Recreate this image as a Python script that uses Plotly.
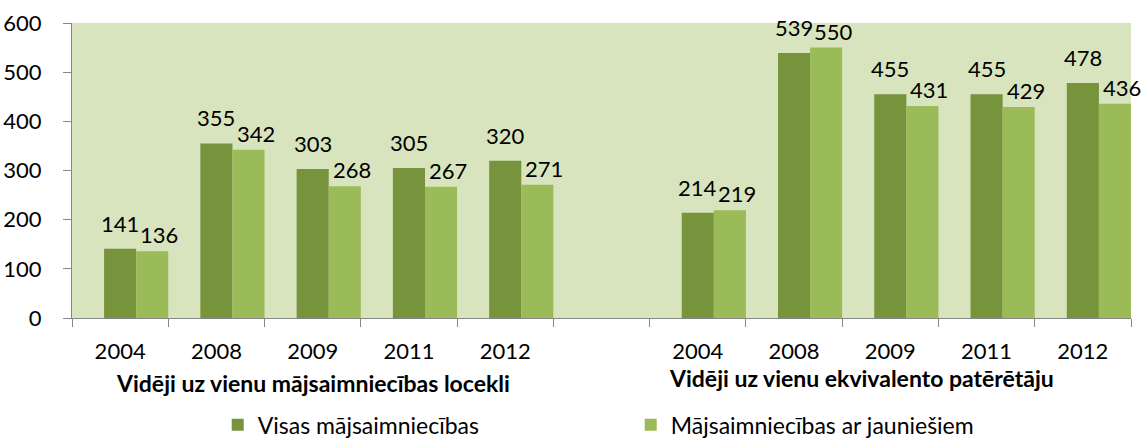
import plotly.graph_objects as go

# ---- data ----
categories = ["L2004", "L2008", "L2009", "L2011", "L2012", "gap",
              "R2004", "R2008", "R2009", "R2011", "R2012"]
tick_labels = ["2004", "2008", "2009", "2011", "2012", "",
               "2004", "2008", "2009", "2011", "2012"]
visas = [141, 355, 303, 305, 320, None, 214, 539, 455, 455, 478]
jaunie = [136, 342, 268, 267, 271, None, 219, 550, 431, 429, 436]
series_names = ["Visas mājsaimniecības", "Mājsaimniecības ar jauniešiem"]
group_titles = ["Vidēji uz vienu mājsaimniecības locekli",
                "Vidēji uz vienu ekvivalento patērētāju"]

DARK = "#77933C"
LIGHT = "#9BBB59"
BG = "#D7E4BD"
AXIS = "#868686"
FONT = "Lato, 'Open Sans', sans-serif"
FS = 22

fig = go.Figure()
fig.add_trace(go.Bar(
    x=categories, y=visas, name=series_names[0],
    marker=dict(color=DARK, line=dict(width=0)),
    width=1/3, offset=-1/6, hoverinfo="x+y",
))
fig.add_trace(go.Bar(
    x=categories, y=jaunie, name=series_names[1],
    marker=dict(color=LIGHT, line=dict(width=0)),
    width=1/3, offset=1/6, hoverinfo="x+y",
))

# data labels (Excel-like placement: dark labels a bit higher, light ones nudged right)
for i, (a, b) in enumerate(zip(visas, jaunie)):
    if a is not None:
        fig.add_annotation(x=i, y=a, xref="x", yref="y", text=str(a), showarrow=False,
                           xanchor="center", yanchor="bottom", yshift=10,
                           font=dict(size=FS, family=FONT, color="black"))
    if b is not None:
        fig.add_annotation(x=i + 1/3, y=b, xref="x", yref="y", text=str(b), showarrow=False,
                           xanchor="center", yanchor="bottom", yshift=1, xshift=7,
                           font=dict(size=FS, family=FONT, color="black"))

fig.update_layout(
    width=1144, height=439,
    margin=dict(l=72, r=13, t=23, b=121, autoexpand=False),
    paper_bgcolor="white", plot_bgcolor=BG,
    barmode="overlay",
    font=dict(family=FONT, size=FS, color="black"),
    showlegend=True,
    legend=dict(orientation="h", x=0.1376, xanchor="left", y=-0.362, yanchor="middle",
                entrywidth=368, entrywidthmode="pixels",
                font=dict(size=23, family=FONT)),
)
fig.update_xaxes(
    type="category", categoryorder="array", categoryarray=categories,
    tickmode="array", tickvals=categories, ticktext=tick_labels,
    tickson="boundaries", ticks="outside", ticklen=8, tickcolor=AXIS,
    showline=True, linecolor=AXIS, linewidth=1, showgrid=False,
    range=[-0.5, 10.5], tickfont=dict(size=FS, family=FONT),
    ticklabelstandoff=14, automargin=False,
)
fig.update_yaxes(
    range=[0, 600], tickvals=[0, 100, 200, 300, 400, 500, 600],
    ticks="outside", ticklen=8, tickcolor=AXIS,
    showline=True, linecolor=AXIS, linewidth=1, showgrid=False, zeroline=False,
    tickfont=dict(size=FS, family=FONT), ticklabelstandoff=17, automargin=False,
)

fig.add_annotation(x=2, y=-0.22, xref="x", yref="paper", text="<b>" + group_titles[0] + "</b>",
                   showarrow=False, font=dict(size=23, family=FONT), xanchor="center", yanchor="middle")
fig.add_annotation(x=7.7, y=-0.205, xref="x", yref="paper", text="<b>" + group_titles[1] + "</b>",
                   showarrow=False, font=dict(size=23, family=FONT), xanchor="center", yanchor="middle")

fig.write_html("out.html", config={"displayModeBar": False},
               post_script="document.body.style.margin='0';document.body.style.overflow='hidden';")
